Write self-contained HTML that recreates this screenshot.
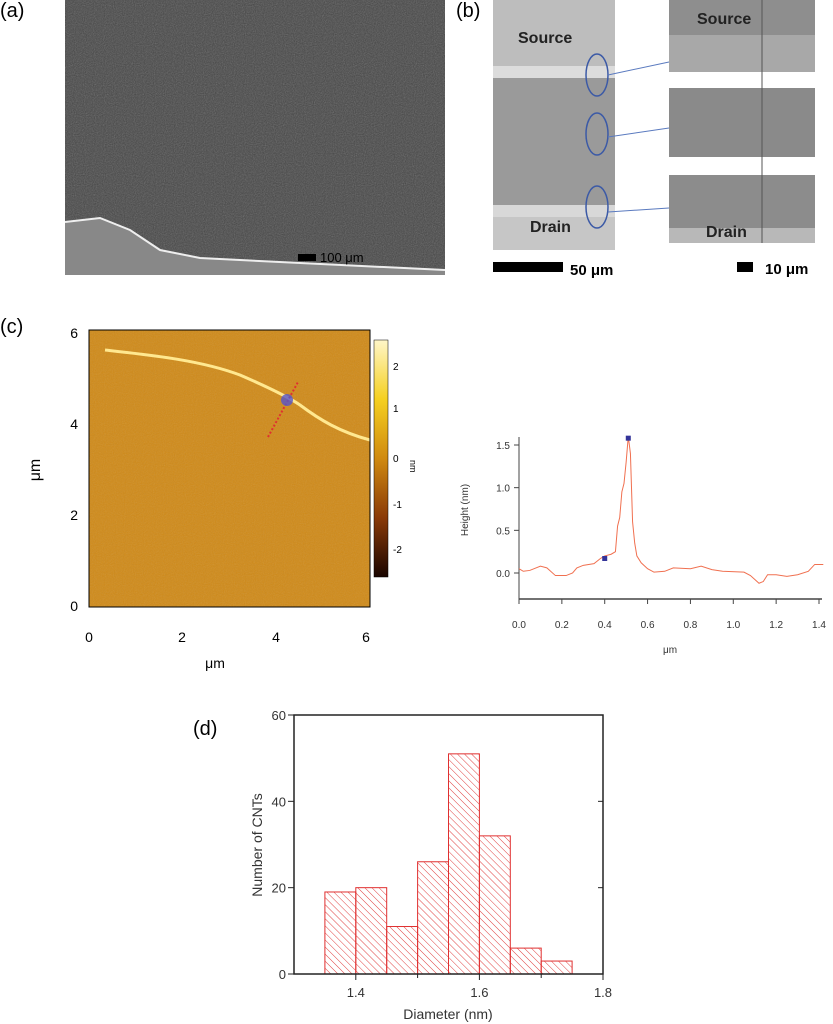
<!DOCTYPE html>
<html><head><meta charset="utf-8"><style>
body{margin:0;background:#fff;width:833px;height:1024px;overflow:hidden;position:relative;font-family:"Liberation Sans",Arial,sans-serif}
.abs{position:absolute}
.lab{position:absolute;font-size:20px;color:#000}
</style></head><body>
<div class="lab" style="left:0;top:0">(a)</div>
<div class="lab" style="left:456px;top:0">(b)</div>
<div class="lab" style="left:0;top:316px">(c)</div>
<div class="lab" style="left:193px;top:718px">(d)</div>

<svg class="abs" style="left:0;top:0" width="833" height="1024">
<defs>
<linearGradient id="cb" x1="0" y1="0" x2="0" y2="1">
<stop offset="0" stop-color="#fff6c8"/><stop offset="0.25" stop-color="#f5d020"/><stop offset="0.5" stop-color="#d08a10"/><stop offset="0.75" stop-color="#8a3a08"/><stop offset="1" stop-color="#1a0500"/></linearGradient>
<pattern id="hatch" width="5" height="5" patternUnits="userSpaceOnUse" patternTransform="rotate(-45)"><line x1="0" y1="0" x2="0" y2="5" stroke="#e04040" stroke-width="1"/></pattern>
<filter id="noise" x="0" y="0" width="1" height="1"><feTurbulence type="fractalNoise" baseFrequency="0.9" numOctaves="2" seed="3"/><feColorMatrix type="saturate" values="0"/><feComponentTransfer><feFuncA type="linear" slope="0.35"/></feComponentTransfer></filter>
</defs>
<g>
<rect x="65" y="0" width="380" height="275" fill="#454545"/>
<rect x="65" y="0" width="380" height="275" filter="url(#noise)"/>
<path d="M65 222 L100 218 L130 230 L160 250 L200 258 L300 263 L445 270 L445 275 L65 275Z" fill="#888"/>
<path d="M65 222 L100 218 L130 230 L160 250 L200 258 L300 263 L445 270" stroke="#eee" stroke-width="2" fill="none"/>
<rect x="298" y="254" width="18" height="7" fill="#000"/>
<text x="320" y="262" font-size="13" fill="#000">100 μm</text>
</g>
<g>
<rect x="493" y="0" width="122" height="250" fill="#9a9a9a"/>
<rect x="493" y="0" width="122" height="66" fill="#bdbdbd"/>
<rect x="493" y="66" width="122" height="12" fill="#dcdcdc"/>
<rect x="493" y="205" width="122" height="12" fill="#d8d8d8"/>
<rect x="493" y="217" width="122" height="33" fill="#c6c6c6"/>
<text x="518" y="43" font-size="16" font-weight="bold" fill="#222">Source</text>
<text x="530" y="232" font-size="16" font-weight="bold" fill="#222">Drain</text>
<ellipse cx="597" cy="75" rx="11" ry="21" fill="none" stroke="#3c5aa6" stroke-width="1.5"/>
<ellipse cx="597" cy="134" rx="11" ry="21" fill="none" stroke="#3c5aa6" stroke-width="1.5"/>
<ellipse cx="597" cy="207" rx="11" ry="21" fill="none" stroke="#3c5aa6" stroke-width="1.5"/>
<line x1="608" y1="75" x2="669" y2="62" stroke="#5a7abf"/><line x1="608" y1="137" x2="669" y2="128" stroke="#5a7abf"/><line x1="608" y1="212" x2="669" y2="208" stroke="#5a7abf"/>
<rect x="669" y="0" width="146" height="72" fill="#a8a8a8"/><rect x="669" y="0" width="146" height="35" fill="#8e8e8e"/>
<text x="697" y="24" font-size="16" font-weight="bold" fill="#222">Source</text>
<rect x="669" y="88" width="146" height="69" fill="#8a8a8a"/>
<rect x="669" y="175" width="146" height="68" fill="#8c8c8c"/><rect x="669" y="228" width="146" height="15" fill="#b8b8b8"/>
<text x="706" y="237" font-size="16" font-weight="bold" fill="#222">Drain</text>
<line x1="762" y1="0" x2="762" y2="243" stroke="#555" stroke-width="1"/>
<rect x="493" y="262" width="70" height="10" fill="#000"/>
<text x="570" y="275" font-size="15" font-weight="bold">50 μm</text>
<rect x="737" y="262" width="16" height="10" fill="#000"/>
<text x="765" y="274" font-size="15" font-weight="bold">10 μm</text>
</g>
<g>
<rect x="89" y="330" width="281" height="277" fill="#d08a18"/>
<rect x="89" y="330" width="281" height="277" filter="url(#noise)" opacity="0.5"/>
<path d="M105 350 C150 355 200 360 240 375 C270 388 290 398 300 405 C320 420 340 432 370 440" stroke="#ffe890" stroke-width="3" fill="none"/>
<line x1="268" y1="437" x2="298" y2="382" stroke="#e03030" stroke-width="2" stroke-dasharray="2 2"/>
<circle cx="287" cy="400" r="6" fill="#5555cc" opacity="0.8"/>
<rect x="89" y="330" width="281" height="277" fill="none" stroke="#000"/>
<rect x="374" y="340" width="14" height="237" fill="url(#cb)" stroke="#000" stroke-width="0.5"/>
<g font-size="10" fill="#000">
<text x="393" y="370">2</text><text x="393" y="412">1</text><text x="393" y="462">0</text><text x="393" y="508">-1</text><text x="393" y="553">-2</text>
</g>
<text x="410" y="460" font-size="9" transform="rotate(90 410 460)">nm</text>
<g font-size="14" fill="#000" text-anchor="middle">
<text x="89" y="642">0</text><text x="182" y="642">2</text><text x="276" y="642">4</text><text x="366" y="642">6</text>
<text x="215" y="668">μm</text>
</g>
<g font-size="14" fill="#000" text-anchor="end">
<text x="78" y="338">6</text><text x="78" y="429">4</text><text x="78" y="520">2</text><text x="78" y="611">0</text>
</g>
<text x="40" y="470" font-size="16" text-anchor="middle" transform="rotate(-90 40 470)">μm</text>
</g>
<g id="profile"></g>
<g id="hist"></g>
</svg>
<script>
const NS='http://www.w3.org/2000/svg';
function mk(p,t,a){const e=document.createElementNS(NS,t);for(const k in a)e.setAttribute(k,a[k]);p.appendChild(e);return e;}
const profX=[0,0.02,0.05,0.1,0.13,0.17,0.22,0.25,0.27,0.3,0.35,0.38,0.4,0.43,0.45,0.46,0.47,0.48,0.49,0.5,0.51,0.52,0.53,0.54,0.55,0.57,0.6,0.63,0.68,0.72,0.8,0.85,0.9,0.95,1.05,1.08,1.12,1.14,1.16,1.2,1.25,1.3,1.35,1.38,1.4,1.42];
const profY=[0.05,0.02,0.03,0.08,0.06,-0.03,-0.03,0.0,0.06,0.09,0.11,0.17,0.2,0.22,0.25,0.55,0.65,0.95,1.05,1.3,1.6,1.4,0.6,0.35,0.2,0.12,0.05,0.01,0.02,0.06,0.05,0.08,0.04,0.02,0.01,-0.03,-0.12,-0.1,-0.02,-0.02,-0.04,-0.02,0.02,0.1,0.1,0.1];
const profTicksX=[0,0.2,0.4,0.6,0.8,1.0,1.2,1.4];
const profTicksY=[0,0.5,1.0,1.5];
const profMarkers=[[0.4,0.17],[0.51,1.58]];
const px=v=>519+v*(300/1.4), py=v=>573-v*(128/1.5);
const P=document.getElementById('profile');
let e;
e=mk(P,'line',{x1:519,y1:437,x2:519,y2:599,stroke:'#444'});
e=mk(P,'line',{x1:519,y1:599,x2:822,y2:599,stroke:'#444','stroke-width':1.5});
profTicksX.forEach(t=>{mk(P,'line',{x1:px(t),y1:599,x2:px(t),y2:604,stroke:'#444'});const tx=mk(P,'text',{x:px(t),y:628,'font-size':10,'text-anchor':'middle',fill:'#333'});tx.textContent=t.toFixed(1);});
profTicksY.forEach(t=>{mk(P,'line',{x1:514,y1:py(t),x2:519,y2:py(t),stroke:'#444'});const tx=mk(P,'text',{x:510,y:py(t)+4,'font-size':10,'text-anchor':'end',fill:'#333'});tx.textContent=t.toFixed(1);});
e=mk(P,'text',{x:670,y:653,'font-size':10,'text-anchor':'middle',fill:'#333'});e.textContent='μm';
e=mk(P,'text',{x:468,y:510,'font-size':10,'text-anchor':'middle',fill:'#333',transform:'rotate(-90 468 510)'});e.textContent='Height (nm)';
e=mk(P,'polyline',{points:profX.map((x,i)=>px(x)+','+py(profY[i])).join(' '),fill:'none',stroke:'#f07050','stroke-width':1});

profMarkers.forEach(m=>{const r=mk(P,'rect',{x:px(m[0])-2.5,y:py(m[1])-2.5,width:5,height:5,fill:'#333399'});});
const binStarts=[1.35,1.40,1.45,1.50,1.55,1.60,1.65,1.70];
const counts=[19,20,11,26,51,32,6,3];
const histTicksX=[1.4,1.6,1.8];
const histTicksY=[0,20,40,60];
const hx=v=>294+(v-1.3)*(309/0.5), hy=v=>974-v*(259/60);
const H=document.getElementById('hist');
binStarts.forEach((b,i)=>{const r=mk(H,'rect',{x:hx(b),y:hy(counts[i]),width:hx(b+0.05)-hx(b),height:hy(0)-hy(counts[i]),fill:'url(#hatch)',stroke:'#e03030','stroke-width':1});});
e=mk(H,'rect',{x:294,y:715,width:309,height:259,fill:'none',stroke:'#222','stroke-width':1.5});
histTicksX.forEach(t=>{mk(H,'line',{x1:hx(t),y1:974,x2:hx(t),y2:980,stroke:'#222'});const tx=mk(H,'text',{x:hx(t),y:997,'font-size':13,'text-anchor':'middle',fill:'#333'});tx.textContent=t.toFixed(1);});
[1.5,1.7].forEach(t=>mk(H,'line',{x1:hx(t),y1:974,x2:hx(t),y2:978,stroke:'#222'}));
histTicksY.forEach(t=>{mk(H,'line',{x1:288,y1:hy(t),x2:294,y2:hy(t),stroke:'#222'});mk(H,'line',{x1:603,y1:hy(t),x2:598,y2:hy(t),stroke:'#222'});const tx=mk(H,'text',{x:286,y:hy(t)+5,'font-size':13,'text-anchor':'end',fill:'#333'});tx.textContent=t;});
e=mk(H,'text',{x:448,y:1019,'font-size':14,'text-anchor':'middle',fill:'#333'});e.textContent='Diameter (nm)';
e=mk(H,'text',{x:262,y:845,'font-size':14,'text-anchor':'middle',fill:'#333',transform:'rotate(-90 262 845)'});e.textContent='Number of CNTs';
</script>
</body></html>
